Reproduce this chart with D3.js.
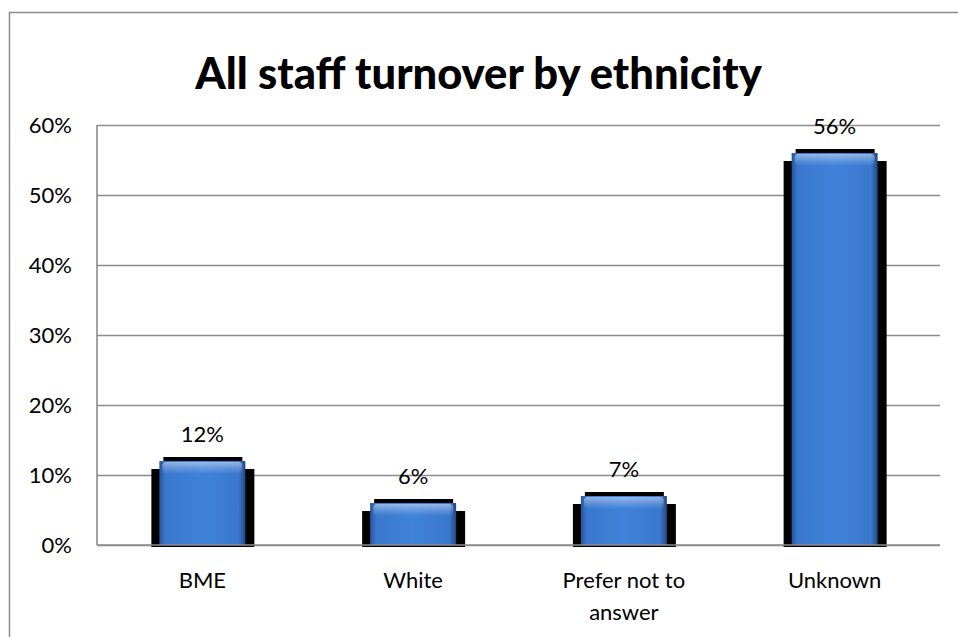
<!DOCTYPE html>
<html>
<head>
<meta charset="utf-8">
<script src="https://cdn.jsdelivr.net/npm/d3@7"></script>
<style>
  html, body { margin: 0; padding: 0; background: #fff; }
  svg { display: block; }
  text { font-family: Lato, "Open Sans", "Liberation Sans", sans-serif; fill: #000; }
</style>
</head>
<body>
<script>
// Chart data
const categories = ["BME", "White", "Prefer not to answer", "Unknown"];
const categoryLines = [["BME"], ["White"], ["Prefer not to", "answer"], ["Unknown"]];
const values = [0.12, 0.06, 0.07, 0.56];
const valueLabels = ["12%", "6%", "7%", "56%"];
const yTickValues = [0, 0.1, 0.2, 0.3, 0.4, 0.5, 0.6];
const titleText = "All staff turnover by ethnicity";

const W = 958, H = 637;
const plot = { left: 97, right: 940, top: 125, bottom: 545 };

const svg = d3.select("body").append("svg")
  .attr("width", W).attr("height", H);

const defs = svg.append("defs");
const body = defs.append("linearGradient").attr("id", "barBody")
  .attr("x1", 0).attr("x2", 1).attr("y1", 0).attr("y2", 0);
[[0, "#27559a"], [0.07, "#3a78ce"], [0.5, "#4082da"], [0.92, "#3a78cf"], [1, "#22497f"]]
  .forEach(([o, c]) => body.append("stop").attr("offset", o).attr("stop-color", c));
const gloss = defs.append("linearGradient").attr("id", "barGloss")
  .attr("x1", 0).attr("x2", 0).attr("y1", 0).attr("y2", 1);
[[0, "#ffffff", 0.45], [0.5, "#ffffff", 0.2], [1, "#ffffff", 0]]
  .forEach(([o, c, a]) => gloss.append("stop").attr("offset", o).attr("stop-color", c).attr("stop-opacity", a));

// Outer frame
svg.append("rect")
  .attr("x", 9.5).attr("y", 12.5).attr("width", W + 20).attr("height", H + 20)
  .attr("fill", "#fff").attr("stroke", "#8c8c8c").attr("stroke-width", 1.5);

const x = d3.scaleBand()
  .domain(categories)
  .range([plot.left, plot.right])
  .paddingInner(0.592)
  .paddingOuter(0.296);

const y = d3.scaleLinear()
  .domain([0, 0.6])
  .range([plot.bottom, plot.top]);

// Gridlines and y tick labels
const yAxis = svg.append("g")
  .attr("transform", `translate(${plot.left},0)`)
  .call(d3.axisLeft(y)
    .tickValues(yTickValues)
    .tickSize(-(plot.right - plot.left))
    .tickPadding(25)
    .tickFormat(d3.format(".0%")));
yAxis.select(".domain").remove();
yAxis.selectAll(".tick line").attr("stroke", "#8c8c8c").attr("stroke-width", 1.6);
yAxis.selectAll(".tick text")
  .attr("font-size", 22)
  .attr("dy", "0.36em")
  .style("font-family", "Lato, 'Open Sans', sans-serif")
  .attr("fill", "#000");

// Vertical axis line
svg.append("line")
  .attr("x1", plot.left).attr("x2", plot.left)
  .attr("y1", plot.top).attr("y2", plot.bottom)
  .attr("stroke", "#8c8c8c").attr("stroke-width", 1.6);

// Bars with their dark box shadow
const bars = svg.append("g").selectAll("g")
  .data(categories.map((c, i) => ({ c, v: values[i], label: valueLabels[i] })))
  .join("g");

bars.append("path")
  .attr("fill", "#000")
  .attr("d", d => {
    const x0 = x(d.c), w = x.bandwidth(), t = y(d.v), b = y(0) + 2;
    return `M${x0 + 4},${t - 4}H${x0 + w - 3}V${t + 8}H${x0 + w + 9}V${b}H${x0 - 8}V${t + 8}H${x0 + 4}Z`;
  });

bars.append("rect")
  .attr("x", d => x(d.c))
  .attr("y", d => y(d.v))
  .attr("width", x.bandwidth())
  .attr("height", d => y(0) - y(d.v))
  .attr("fill", "url(#barBody)");

bars.append("rect")
  .attr("x", d => x(d.c) + 3)
  .attr("y", d => y(d.v) + 1)
  .attr("width", x.bandwidth() - 6)
  .attr("height", 12)
  .attr("rx", 4)
  .attr("fill", "url(#barGloss)");

bars.append("text")
  .attr("x", d => x(d.c) + x.bandwidth() / 2)
  .attr("y", d => y(d.v) - 19)
  .attr("text-anchor", "middle")
  .attr("font-size", 22)
  .text(d => d.label);

// Category axis
svg.append("line")
  .attr("x1", plot.left).attr("x2", plot.right)
  .attr("y1", plot.bottom).attr("y2", plot.bottom)
  .attr("stroke", "#8c8c8c").attr("stroke-width", 1.6);

const catLabels = svg.append("g").selectAll("text")
  .data(categories)
  .join("text")
  .attr("x", d => x(d) + x.bandwidth() / 2)
  .attr("y", 588)
  .attr("text-anchor", "middle")
  .attr("font-size", 22);
catLabels.selectAll("tspan")
  .data((d, i) => categoryLines[i])
  .join("tspan")
  .attr("x", function () { return this.parentNode.getAttribute("x"); })
  .attr("dy", (d, i) => i === 0 ? 0 : 32)
  .text(d => d);

// Title
svg.append("text")
  .attr("x", 478.5)
  .attr("y", 89)
  .attr("text-anchor", "middle")
  .attr("font-size", 43.5)
  .attr("font-weight", 900)
  .text(titleText);
</script>
</body>
</html>
